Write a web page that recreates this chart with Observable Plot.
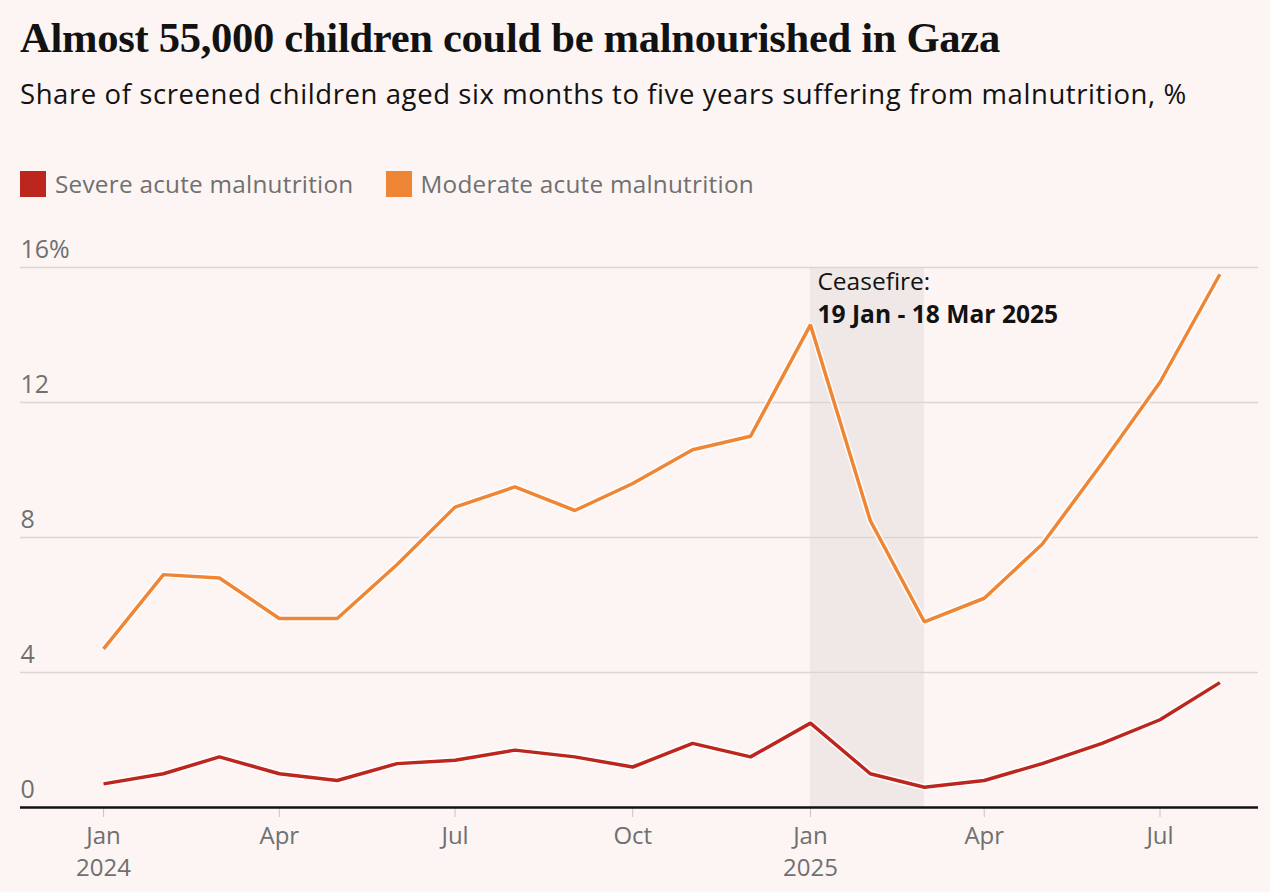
<!DOCTYPE html>
<html>
<head>
<meta charset="utf-8">
<script src="https://cdn.jsdelivr.net/npm/d3@7"></script>
<script src="https://cdn.jsdelivr.net/npm/@observablehq/plot@0.6"></script>
<style>
  html, body { margin: 0; padding: 0; background: #fcf5f3; }
  body { width: 1270px; height: 892px; position: relative; overflow: hidden; font-family: "Open Sans", "Noto Sans", sans-serif; }
  #title { position: absolute; left: 20px; top: 14px; font-family: "Liberation Serif", serif; font-weight: bold; font-size: 42.6px; line-height: 48px; color: #121212; letter-spacing: -0.3px; white-space: nowrap; }
  #subtitle { position: absolute; left: 20px; top: 77px; font-size: 27.5px; line-height: 34px; letter-spacing: 0.58px; color: #121212; white-space: nowrap; }
  #legend { position: absolute; left: 20px; top: 167px; display: flex; align-items: center; font-size: 24.3px; letter-spacing: 0.25px; color: #707070; white-space: nowrap; }
  .key { display: flex; align-items: center; margin-right: 32px; }
  .swatch { width: 26px; height: 26px; margin-right: 9px; }
  #chart { position: absolute; left: 0; top: 225px; }
</style>
</head>
<body>
<div id="title">Almost 55,000 children could be malnourished in Gaza</div>
<div id="subtitle">Share of screened children aged six months to five years suffering from malnutrition, %</div>
<div id="legend"></div>
<div id="chart"></div>
<script>
// Monthly screening results, Jan 2024 – Aug 2025
const months = [
  "2024-01-01", "2024-02-01", "2024-03-01", "2024-04-01", "2024-05-01", "2024-06-01",
  "2024-07-01", "2024-08-01", "2024-09-01", "2024-10-01", "2024-11-01", "2024-12-01",
  "2025-01-01", "2025-02-01", "2025-03-01", "2025-04-01", "2025-05-01", "2025-06-01",
  "2025-07-01", "2025-08-01"
];
const severe = [0.7, 1.0, 1.5, 1.0, 0.8, 1.3, 1.4, 1.7, 1.5, 1.2, 1.9, 1.5, 2.5, 1.0, 0.6, 0.8, 1.3, 1.9, 2.6, 3.7];
const moderate = [4.7, 6.9, 6.8, 5.6, 5.6, 7.2, 8.9, 9.5, 8.8, 9.6, 10.6, 11.0, 14.3, 8.5, 5.5, 6.2, 7.8, 10.2, 12.6, 15.8];

const seriesNames = ["Severe acute malnutrition", "Moderate acute malnutrition"];
const seriesColors = ["#bd261c", "#ef8636"];

// Ceasefire period, shaded between the monthly readings it spans
const ceasefire = [{start: "2025-01-01", end: "2025-03-01"}];
const ceasefireLabel = ["Ceasefire:", "19 Jan - 18 Mar 2025"];

const yTicks = [0, 4, 8, 12, 16];
const xTicks = ["2024-01-01", "2024-04-01", "2024-07-01", "2024-10-01", "2025-01-01", "2025-04-01", "2025-07-01"];

const parse = d3.utcParse("%Y-%m-%d");
const dates = months.map(parse);
const rows = (vals, name) => vals.map((v, i) => ({date: dates[i], value: v, series: name}));
const severeRows = rows(severe, seriesNames[0]);
const moderateRows = rows(moderate, seriesNames[1]);
const shade = ceasefire.map(c => ({start: parse(c.start), end: parse(c.end)}));

// Legend
const legend = document.getElementById("legend");
seriesNames.forEach((n, i) => {
  const k = document.createElement("div");
  k.className = "key";
  k.innerHTML = `<div class="swatch" style="background:${seriesColors[i]}"></div><span>${n}</span>`;
  legend.appendChild(k);
});

const monthFmt = d3.utcFormat("%b");
const tickFmt = d => d.getUTCMonth() === 0 ? `${monthFmt(d)}\n${d.getUTCFullYear()}` : monthFmt(d);

const halo = {stroke: "#ffffff", strokeWidth: 6.5, strokeLinejoin: "miter", strokeLinecap: "butt"};
const lineStyle = {strokeWidth: 3.5, strokeLinejoin: "miter", strokeLinecap: "butt"};
const sans = "'Open Sans', 'Noto Sans', sans-serif";

const chart = Plot.plot({
  width: 1270,
  height: 667,
  marginLeft: 20,
  marginRight: 12,
  marginTop: 42,
  marginBottom: 85,
  style: {background: "transparent", fontFamily: sans},
  x: {type: "utc", domain: [parse("2023-11-19"), parse("2025-08-21")]},
  y: {domain: [0, 16], axis: null},
  marks: [
    Plot.rect(shade, {x1: "start", x2: "end", y1: 0, y2: 16, fill: "#f0e8e6"}),
    Plot.ruleY(yTicks.filter(d => d > 0), {stroke: "#dbd5d3", strokeWidth: 1.5}),
    Plot.text(yTicks, {
      y: d => d, frameAnchor: "left", text: d => d === 16 ? `${d}%` : `${d}`,
      textAnchor: "start", lineAnchor: "bottom", dy: -10, fontSize: 25, fill: "#707070"
    }),
    Plot.axisX({
      ticks: xTicks.map(parse), tickFormat: tickFmt, tickSize: 10, tickPadding: 4,
      stroke: "#c9c3c1", fill: "#707070", fontSize: 24, lineHeight: 1.32, label: null
    }),
    Plot.line(moderateRows, {x: "date", y: "value", ...halo}),
    Plot.line(moderateRows, {x: "date", y: "value", stroke: seriesColors[1], ...lineStyle}),
    Plot.line(severeRows, {x: "date", y: "value", ...halo}),
    Plot.line(severeRows, {x: "date", y: "value", stroke: seriesColors[0], ...lineStyle}),
    Plot.ruleY([0], {stroke: "#121212", strokeWidth: 2.5}),
    Plot.text(shade, {x: "start", y: 16, text: () => ceasefireLabel[0], textAnchor: "start", lineAnchor: "top", dx: 7, dy: 5, fontSize: 24.5, fill: "#121212"}),
    Plot.text(shade, {x: "start", y: 16, text: () => ceasefireLabel[1], textAnchor: "start", lineAnchor: "top", dx: 7, dy: 38, fontSize: 24.6, fontWeight: "bold", fill: "#121212"})
  ]
});
document.getElementById("chart").appendChild(chart);
</script>
</body>
</html>
